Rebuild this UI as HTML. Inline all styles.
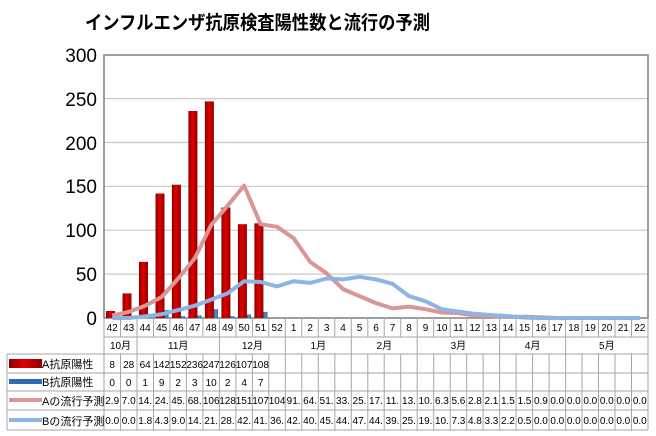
<!DOCTYPE html>
<html><head><meta charset="utf-8"><style>
body{margin:0;background:#fff}
svg{display:block;font-family:"Liberation Sans","Noto Sans CJK JP",sans-serif}
.t{font-size:10px;text-anchor:middle;fill:#000}
.l{font-size:11px;fill:#000}
.y{font-size:19px;text-anchor:end;fill:#000}
</style></head><body>
<svg width="656" height="436" viewBox="0 0 656 436">
<defs>
<linearGradient id="rg" x1="0" x2="1"><stop offset="0" stop-color="#8b0000"/><stop offset=".45" stop-color="#e00000"/><stop offset="1" stop-color="#900000"/></linearGradient>
<linearGradient id="bg" x1="0" x2="1"><stop offset="0" stop-color="#1f4e8c"/><stop offset=".5" stop-color="#5b9bd5"/><stop offset="1" stop-color="#1f4e8c"/></linearGradient>
</defs>
<text x="85" y="29" font-size="19" font-weight="bold" textLength="345" lengthAdjust="spacingAndGlyphs" font-family="'Noto Sans CJK JP',sans-serif">インフルエンザ抗原検査陽性数と流行の予測</text>
<g stroke="#c8c8c8" stroke-width="1.2">
<line x1="104" y1="98.6" x2="648" y2="98.6"/><line x1="104" y1="142.5" x2="648" y2="142.5"/><line x1="104" y1="186.3" x2="648" y2="186.3"/><line x1="104" y1="230.2" x2="648" y2="230.2"/><line x1="104" y1="274.1" x2="648" y2="274.1"/>
</g>
<rect x="104" y="55" width="544" height="263" fill="none" stroke="#7f7f7f" stroke-width="1.5"/>
<g class="y"><text x="97" y="62">300</text><text x="97" y="106">250</text><text x="97" y="150">200</text><text x="97" y="193">150</text><text x="97" y="237">100</text><text x="97" y="281">50</text><text x="97" y="325">0</text></g>
<g fill="url(#rg)">
<rect x="106" y="311" width="9" height="7"/><rect x="122.5" y="293.4" width="9" height="24.6"/><rect x="139" y="261.9" width="9" height="56.1"/><rect x="155.5" y="193.5" width="9" height="124.5"/><rect x="171.9" y="184.7" width="9" height="133.3"/><rect x="188.4" y="111" width="9" height="207"/><rect x="204.9" y="101.4" width="9" height="216.6"/><rect x="221.4" y="207.5" width="9" height="110.5"/><rect x="237.9" y="224.2" width="9" height="93.8"/><rect x="254.4" y="223.3" width="9" height="94.7"/>
</g>
<g fill="url(#bg)">
<rect x="148" y="317.1" width="4" height=".9"/><rect x="164.5" y="310.1" width="4" height="7.9"/><rect x="180.9" y="316.2" width="4" height="1.8"/><rect x="197.4" y="315.4" width="4" height="2.6"/><rect x="213.9" y="309.2" width="4" height="8.8"/><rect x="230.4" y="316.2" width="4" height="1.8"/><rect x="246.9" y="314.5" width="4" height="3.5"/><rect x="263.4" y="311.9" width="4" height="6.1"/>
</g>
<polyline fill="none" stroke="#d99694" stroke-width="4" stroke-linejoin="round" points="112.2,315.5 128.7,311.9 145.2,305.7 161.7,297 178.2,278.5 194.7,258.4 211.2,225 227.6,205.7 244.1,185.6 260.6,224.2 277.1,226.8 293.6,238.2 310.1,261.9 326.6,273.3 343,289.1 359.5,296.1 376,303.1 392.5,308.4 409,306.6 425.5,309.2 441.9,312.5 458.4,313.1 474.9,315.5 491.4,316.2 507.9,316.7 524.4,316.7 540.9,317.2 557.3,318 639.8,318"/>
<polyline fill="none" stroke="#8eb4e3" stroke-width="4" stroke-linejoin="round" points="112.2,318 128.7,318 145.2,316.4 161.7,314.2 178.2,310.1 194.7,305.7 211.2,299.6 227.6,293.4 244.1,281.2 260.6,282 277.1,286.4 293.6,281.2 310.1,282.9 326.6,278.5 343,279.4 359.5,276.8 376,279.4 392.5,283.8 409,296.1 425.5,301.3 441.9,309.2 458.4,311.6 474.9,313.8 491.4,315.1 507.9,316.1 524.4,317.6 540.9,318 639.8,318"/>
<g stroke="#a6a6a6" stroke-width="1" fill="none">
<line x1="104" y1="337" x2="648" y2="337"/>
<line x1="7" y1="354" x2="648" y2="354"/><line x1="7" y1="373" x2="648" y2="373"/><line x1="7" y1="391" x2="648" y2="391"/><line x1="7" y1="410" x2="648" y2="410"/><line x1="7" y1="430" x2="648" y2="430"/>
<line x1="7" y1="354" x2="7" y2="430"/>
<path d="M104 318V430M120.5 318V337M137 318V430M153.5 318V337M169.9 318V337M186.4 318V337M202.9 318V337M219.4 318V430M235.9 318V337M252.4 318V337M268.8 318V337M285.3 318V430M301.8 318V337M318.3 318V337M334.8 318V337M351.3 318V430M367.8 318V337M384.2 318V337M400.7 318V337M417.2 318V430M433.7 318V337M450.2 318V337M466.7 318V337M483.1 318V337M499.6 318V430M516.1 318V337M532.6 318V337M549.1 318V337M565.6 318V430M582 318V337M598.5 318V337M615 318V337M631.5 318V337M648 318V430"/>
<path d="M120.5 354V430M153.5 354V430M169.9 354V430M186.4 354V430M202.9 354V430M235.9 354V430M252.4 354V430M268.8 354V430M301.8 354V430M318.3 354V430M334.8 354V430M367.8 354V430M384.2 354V430M400.7 354V430M433.7 354V430M450.2 354V430M466.7 354V430M483.1 354V430M516.1 354V430M532.6 354V430M549.1 354V430M582 354V430M598.5 354V430M615 354V430M631.5 354V430"/>
</g>
<g class="t" font-size="10">
<text x="112.2" y="331">42</text><text x="128.7" y="331">43</text><text x="145.2" y="331">44</text><text x="161.7" y="331">45</text><text x="178.2" y="331">46</text><text x="194.7" y="331">47</text><text x="211.2" y="331">48</text><text x="227.6" y="331">49</text><text x="244.1" y="331">50</text><text x="260.6" y="331">51</text><text x="277.1" y="331">52</text><text x="293.6" y="331">1</text><text x="310.1" y="331">2</text><text x="326.6" y="331">3</text><text x="343" y="331">4</text><text x="359.5" y="331">5</text><text x="376" y="331">6</text><text x="392.5" y="331">7</text><text x="409" y="331">8</text><text x="425.5" y="331">9</text><text x="441.9" y="331">10</text><text x="458.4" y="331">11</text><text x="474.9" y="331">12</text><text x="491.4" y="331">13</text><text x="507.9" y="331">14</text><text x="524.4" y="331">15</text><text x="540.9" y="331">16</text><text x="557.3" y="331">17</text><text x="573.8" y="331">18</text><text x="590.3" y="331">19</text><text x="606.8" y="331">20</text><text x="623.3" y="331">21</text><text x="639.8" y="331">22</text>
<text x="120.5" y="349">10月</text><text x="178.2" y="349">11月</text><text x="252.4" y="349">12月</text><text x="318.3" y="349">1月</text><text x="384.3" y="349">2月</text><text x="458.4" y="349">3月</text><text x="532.6" y="349">4月</text><text x="606.8" y="349">5月</text>
<text x="112.2" y="368">8</text><text x="128.7" y="368">28</text><text x="145.2" y="368">64</text><text x="161.7" y="368">142</text><text x="178.2" y="368">152</text><text x="194.7" y="368">236</text><text x="211.2" y="368">247</text><text x="227.6" y="368">126</text><text x="244.1" y="368">107</text><text x="260.6" y="368">108</text>
<text x="112.2" y="386">0</text><text x="128.7" y="386">0</text><text x="145.2" y="386">1</text><text x="161.7" y="386">9</text><text x="178.2" y="386">2</text><text x="194.7" y="386">3</text><text x="211.2" y="386">10</text><text x="227.6" y="386">2</text><text x="244.1" y="386">4</text><text x="260.6" y="386">7</text>
</g>
<g class="t" font-size="9.5">
<text x="112.2" y="404">2.9</text><text x="128.7" y="404">7.0</text><text x="145.2" y="404">14.</text><text x="161.7" y="404">24.</text><text x="178.2" y="404">45.</text><text x="194.7" y="404">68.</text><text x="211.2" y="404">106</text><text x="227.6" y="404">128</text><text x="244.1" y="404">151</text><text x="260.6" y="404">107</text><text x="277.1" y="404">104</text><text x="293.6" y="404">91.</text><text x="310.1" y="404">64.</text><text x="326.6" y="404">51.</text><text x="343" y="404">33.</text><text x="359.5" y="404">25.</text><text x="376" y="404">17.</text><text x="392.5" y="404">11.</text><text x="409" y="404">13.</text><text x="425.5" y="404">10.</text><text x="441.9" y="404">6.3</text><text x="458.4" y="404">5.6</text><text x="474.9" y="404">2.8</text><text x="491.4" y="404">2.1</text><text x="507.9" y="404">1.5</text><text x="524.4" y="404">1.5</text><text x="540.9" y="404">0.9</text><text x="557.3" y="404">0.0</text><text x="573.8" y="404">0.0</text><text x="590.3" y="404">0.0</text><text x="606.8" y="404">0.0</text><text x="623.3" y="404">0.0</text><text x="639.8" y="404">0.0</text>
<text x="112.2" y="424">0.0</text><text x="128.7" y="424">0.0</text><text x="145.2" y="424">1.8</text><text x="161.7" y="424">4.3</text><text x="178.2" y="424">9.0</text><text x="194.7" y="424">14.</text><text x="211.2" y="424">21.</text><text x="227.6" y="424">28.</text><text x="244.1" y="424">42.</text><text x="260.6" y="424">41.</text><text x="277.1" y="424">36.</text><text x="293.6" y="424">42.</text><text x="310.1" y="424">40.</text><text x="326.6" y="424">45.</text><text x="343" y="424">44.</text><text x="359.5" y="424">47.</text><text x="376" y="424">44.</text><text x="392.5" y="424">39.</text><text x="409" y="424">25.</text><text x="425.5" y="424">19.</text><text x="441.9" y="424">10.</text><text x="458.4" y="424">7.3</text><text x="474.9" y="424">4.8</text><text x="491.4" y="424">3.3</text><text x="507.9" y="424">2.2</text><text x="524.4" y="424">0.5</text><text x="540.9" y="424">0.0</text><text x="557.3" y="424">0.0</text><text x="573.8" y="424">0.0</text><text x="590.3" y="424">0.0</text><text x="606.8" y="424">0.0</text><text x="623.3" y="424">0.0</text><text x="639.8" y="424">0.0</text>
</g>
<rect x="9" y="359" width="33" height="9" fill="url(#rg)"/>
<rect x="9" y="379" width="33" height="5" fill="#2e6db4"/>
<rect x="9" y="398" width="33" height="4" fill="#d99694"/>
<rect x="9" y="418" width="33" height="4" fill="#8eb4e3"/>
<g class="l"><text x="42" y="368">A抗原陽性</text><text x="42" y="386">B抗原陽性</text><text x="42" y="405">Aの流行予測</text><text x="42" y="425">Bの流行予測</text></g>
</svg>
</body></html>
